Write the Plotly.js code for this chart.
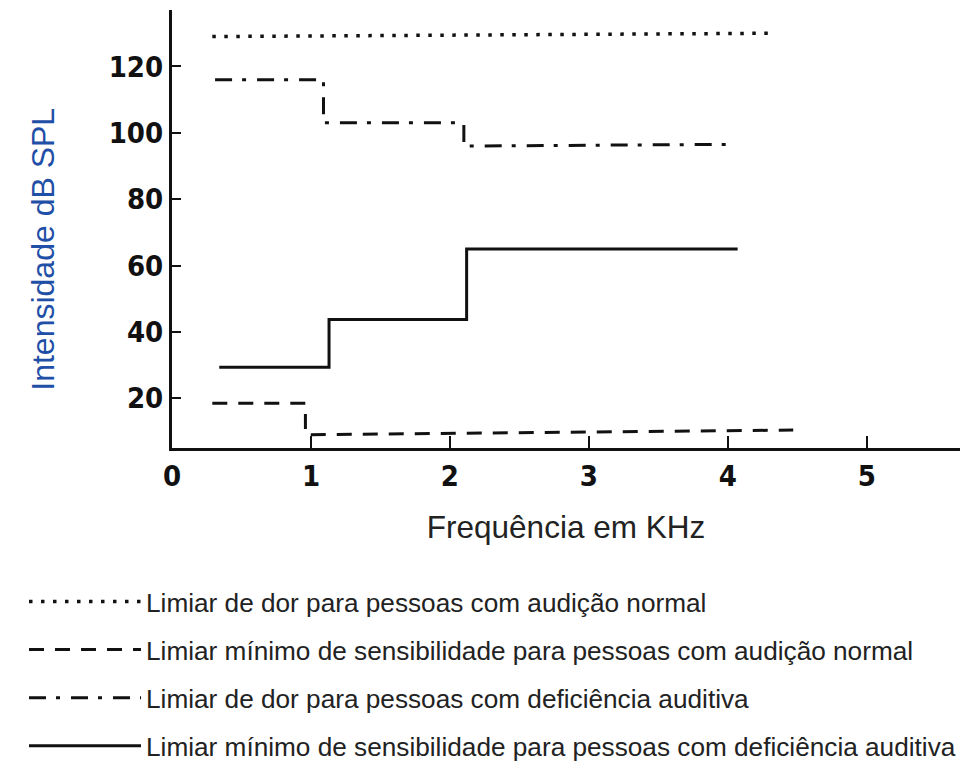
<!DOCTYPE html>
<html>
<head>
<meta charset="utf-8">
<script src="https://cdn.plot.ly/plotly-3.0.1.min.js"></script>
<style>
  html, body { margin: 0; padding: 0; background: #fff; }
  #chart { width: 960px; height: 768px; }
</style>
</head>
<body>
<div id="chart"></div>
<script>
// Series names (legend labels)
const seriesNames = [
  "Limiar de dor para pessoas com audição normal",
  "Limiar mínimo de sensibilidade para pessoas com audição normal",
  "Limiar de dor para pessoas com deficiência auditiva",
  "Limiar mínimo de sensibilidade para pessoas com deficiência auditiva"
];

// Frequency (kHz) and intensity (dB SPL) values
const painNormalX = [0.29, 4.34];
const painNormalY = [129, 130];

const minNormalX = [0.29, 0.96, 0.96, 2.3, 4.47];
const minNormalY = [18.5, 18.5, 9, 9.5, 10.4];

const painImpairedX = [0.31, 1.09, 1.09, 2.1, 2.1, 3.99];
const painImpairedY = [116, 116, 103, 103, 96, 96.5];

const minImpairedX = [0.34, 1.13, 1.13, 2.12, 2.12, 4.07];
const minImpairedY = [29.3, 29.3, 43.7, 43.7, 65, 65];

// Tick labels and axis titles
const xTickVals = [0, 1, 2, 3, 4, 5];
const yTickVals = [20, 40, 60, 80, 100, 120];
const xTitle = "Frequência em KHz";
const yTitle = "Intensidade dB SPL";

const lineColor = "#111";

const traces = [
  { x: painNormalX, y: painNormalY, name: seriesNames[0], legendgroup: "g1",
    mode: "lines", line: { color: lineColor, width: 3.5, dash: "3.5px,8.5px" } },
  { x: minNormalX, y: minNormalY, name: seriesNames[1], legendgroup: "g2",
    mode: "lines", line: { color: lineColor, width: 3, dash: "15px,11px" } },
  { x: painImpairedX, y: painImpairedY, name: seriesNames[2], legendgroup: "g3",
    mode: "lines", line: { color: lineColor, width: 3, dash: "17px,10px,4px,11px" } },
  { x: minImpairedX, y: minImpairedY, name: seriesNames[3], legendgroup: "g4",
    mode: "lines", line: { color: lineColor, width: 3, dash: "solid" } }
];

const tickFont = { family: "DejaVu Sans Condensed, Liberation Sans Narrow, DejaVu Sans, sans-serif", size: 29, color: "#111", weight: "bold" };

const layout = {
  width: 960, height: 768,
  paper_bgcolor: "#fff", plot_bgcolor: "#fff",
  margin: { l: 172, r: 0, t: 10, b: 320, autoexpand: false },
  showlegend: true,
  legend: {
    xref: "container", yref: "container",
    x: 24 / 960, y: 1 - 578 / 768, xanchor: "left", yanchor: "top",
    font: { family: "Liberation Sans, Arial, sans-serif", size: 26.2, color: "#222" },
    itemwidth: 112, tracegroupgap: 11, traceorder: "grouped",
    bgcolor: "rgba(0,0,0,0)"
  },
  xaxis: {
    range: [0, 5.67], showgrid: false, zeroline: false,
    showline: true, linecolor: lineColor, linewidth: 3,
    tickvals: xTickVals, ticks: "inside", ticklen: 12, tickwidth: 2, tickcolor: lineColor,
    tickfont: tickFont,
    title: { text: xTitle, standoff: 25,
      font: { family: "Liberation Sans, Arial, sans-serif", size: 31.5, color: "#222" } }
  },
  yaxis: {
    range: [5, 137], showgrid: false, zeroline: false,
    showline: true, linecolor: lineColor, linewidth: 3,
    tickvals: yTickVals, ticks: "inside", ticklen: 9, tickwidth: 2, tickcolor: lineColor,
    tickfont: tickFont,
    title: { text: "" }
  },
  annotations: [{
    text: yTitle, xref: "paper", yref: "paper",
    x: -0.163, y: 0.454, xanchor: "center", yanchor: "middle",
    textangle: -90, showarrow: false,
    font: { family: "Liberation Sans, Arial, sans-serif", size: 32, color: "#1f4fa6" }
  }]
};

Plotly.newPlot("chart", traces, layout, { displayModeBar: false, staticPlot: true });
</script>
</body>
</html>
